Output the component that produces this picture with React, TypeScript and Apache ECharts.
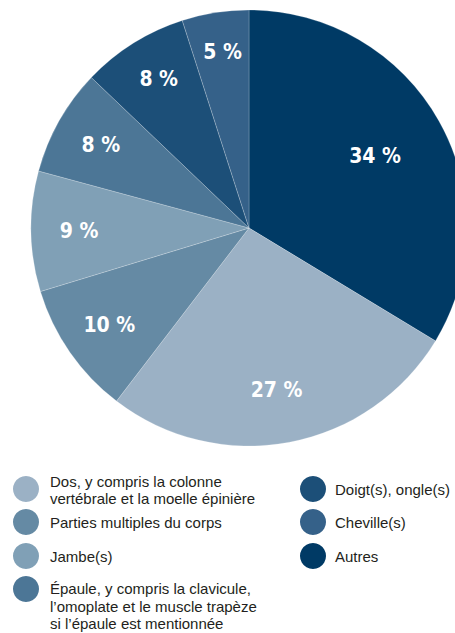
import React, { useEffect, useRef } from "react";
import * as echarts from "echarts";

const categories = [
  "Autres",
  "Dos, y compris la colonne\nvertébrale et la moelle épinière",
  "Parties multiples du corps",
  "Jambe(s)",
  "Épaule, y compris la clavicule,\nl’omoplate et le muscle trapèze\nsi l’épaule est mentionnée",
  "Doigt(s), ongle(s)",
  "Cheville(s)",
];
const values = [34, 27, 10, 9, 8, 8, 5];
const colors = ["#003a65", "#9bb1c5", "#658aa4", "#80a0b6", "#4c7696", "#1c4f78", "#356189"];
// legend order (indices into categories)
const legendLeft = [1, 2, 3, 4];
const legendRight = [5, 6, 0];

export default function App() {
  const ref = useRef<HTMLDivElement>(null);
  useEffect(() => {
    if (!ref.current) return;
    const chart = echarts.init(ref.current, null, { renderer: "svg" });
    const data = categories.map((name, i) => ({
      name,
      value: values[i],
      itemStyle: { color: colors[i] },
    }));
    const legendFont = "'Liberation Sans', Arial, sans-serif";
    const graphics: any[] = [];
    const leftY = [489, 522, 556, 589];
    const leftTextY = [490, 522, 556, 606];
    legendLeft.forEach((ci, k) => {
      graphics.push({
        type: "circle",
        shape: { cx: 26, cy: leftY[k], r: 13 },
        style: { fill: colors[ci] },
      });
      graphics.push({
        type: "text",
        x: 50,
        y: leftTextY[k],
        style: {
          text: categories[ci],
          font: `15px ${legendFont}`,
          fill: "#231f20",
          lineHeight: 17.5,
          verticalAlign: "middle",
        },
      });
    });
    const rightY = [489, 522, 556];
    legendRight.forEach((ci, k) => {
      graphics.push({
        type: "circle",
        shape: { cx: 313, cy: rightY[k], r: 13 },
        style: { fill: colors[ci] },
      });
      graphics.push({
        type: "text",
        x: 335,
        y: rightY[k],
        style: {
          text: categories[ci],
          font: `15px ${legendFont}`,
          fill: "#231f20",
          verticalAlign: "middle",
        },
      });
    });
    const labelOffsets: Record<number, { dx: number; dy: number }> = {
      0: { dx: -22, dy: 11 },
      1: { dx: -4, dy: -5 },
      5: { dx: 0, dy: -5 },
      6: { dx: 0, dy: -8 },
    };
    chart.setOption({
      animation: false,
      series: [
        {
          type: "pie",
          center: [249, 228],
          radius: [0, 218],
          startAngle: 90,
          clockwise: true,
          silent: true,
          label: { show: false },
          labelLine: { show: false },
          itemStyle: { borderColor: "rgba(255,255,255,0.35)", borderWidth: 0.6 },
          data,
        },
        {
          type: "pie",
          center: [249, 228],
          radius: [130, 204],
          startAngle: 90,
          clockwise: true,
          silent: true,
          itemStyle: { color: "transparent" },
          labelLine: { show: false },
          label: {
            show: true,
            position: "inside",
            formatter: (p: any) => `${p.value} %`,
            color: "#ffffff",
            fontSize: 21,
            fontWeight: "bold",
            fontFamily: "'DejaVu Sans Condensed', 'Liberation Sans', sans-serif",
          },
          labelLayout: (p: any) => labelOffsets[p.dataIndex] || {},
          data: categories.map((name, i) => ({ name, value: values[i] })),
        },
      ],
      graphic: graphics,
    });
    return () => chart.dispose();
  }, []);
  return (
    <div
      ref={ref}
      style={{ position: "fixed", left: 0, top: 0, width: 455, height: 633, background: "#fff" }}
    />
  );
}
